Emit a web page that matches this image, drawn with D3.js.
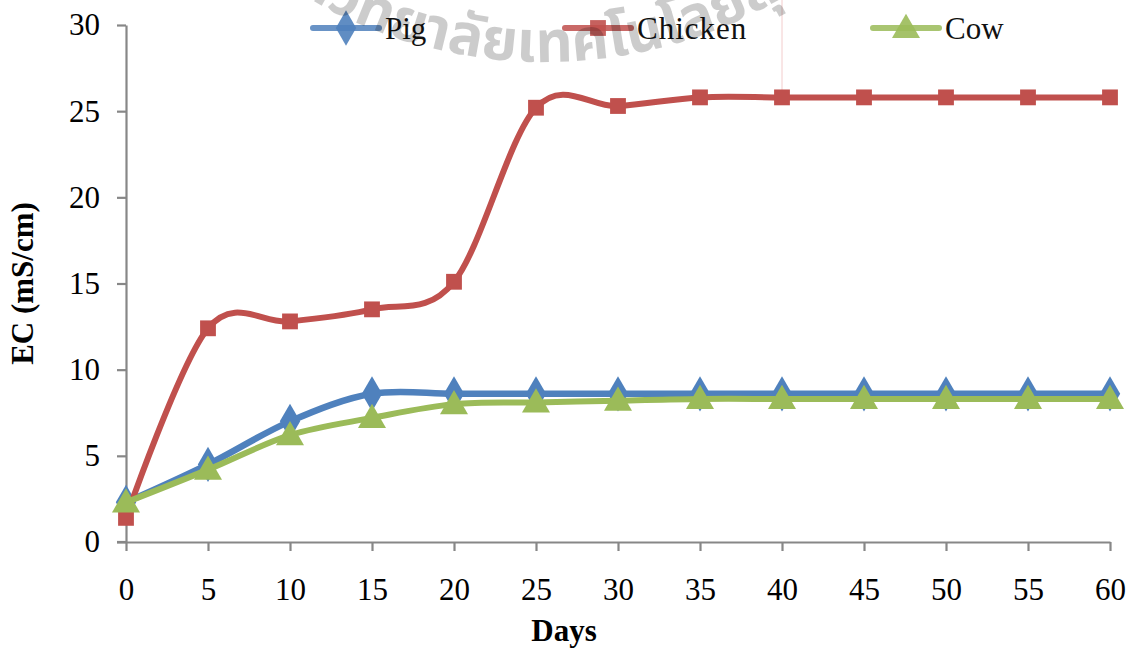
<!DOCTYPE html>
<html>
<head>
<meta charset="utf-8">
<script src="https://cdn.jsdelivr.net/npm/d3@7"></script>
<style>
  html, body { margin: 0; padding: 0; background: #fff; }
  svg { display: block; }
</style>
</head>
<body>
<svg id="chart" width="1137" height="650"></svg>
<script>
// Electrical conductivity of compost over time
const days = [0, 5, 10, 15, 20, 25, 30, 35, 40, 45, 50, 55, 60];
const pig = [2.3, 4.5, 7.0, 8.6, 8.6, 8.6, 8.6, 8.6, 8.6, 8.6, 8.6, 8.6, 8.6];
const chicken = [1.4, 12.4, 12.8, 13.5, 15.1, 25.2, 25.3, 25.8, 25.8, 25.8, 25.8, 25.8, 25.8];
const cow = [2.3, 4.2, 6.2, 7.2, 8.0, 8.1, 8.2, 8.3, 8.3, 8.3, 8.3, 8.3, 8.3];
const yTicks = [0, 5, 10, 15, 20, 25, 30];
const seriesNames = ["Pig", "Chicken", "Cow"];
const seriesColors = ["#4F81BD", "#C0504D", "#9BBB59"];
const seriesSymbols = [d3.symbolDiamond, d3.symbolSquare, d3.symbolTriangle];
const watermarkText = "มหาวิทยาลัยเทคโนโลยีสุรนารี";

const svg = d3.select("#chart");
const font = "'Liberation Serif', 'Times New Roman', serif";

const x = d3.scaleLinear().domain([0, 60]).range([126, 1110]);
const y = d3.scaleLinear().domain([0, 30]).range([542, 25]);

// faint vertical guide at day 40
svg.append("line")
  .attr("x1", x(40)).attr("x2", x(40))
  .attr("y1", 0).attr("y2", y(25.8))
  .attr("stroke", "#f3cccc").attr("stroke-width", 1);

// axes
const axisColor = "#878787";
const yAxis = svg.append("g")
  .attr("transform", `translate(${x(0)},0)`)
  .call(d3.axisLeft(y).tickValues(yTicks).tickSize(9).tickPadding(17).tickSizeOuter(0));
const xAxis = svg.append("g")
  .attr("transform", `translate(0,${y(0)})`)
  .call(d3.axisBottom(x).tickValues(days).tickSize(9).tickPadding(27).tickSizeOuter(0));
[xAxis, yAxis].forEach(g => {
  g.select(".domain").attr("stroke", axisColor).attr("stroke-width", 2.2);
  g.selectAll(".tick line").attr("stroke", axisColor).attr("stroke-width", 2.2);
  g.selectAll(".tick text").attr("fill", "#000").style("font-family", font).style("font-size", "31px");
});
svg.append("line").attr("x1", x(0) - 9).attr("x2", x(0)).attr("y1", y(0)).attr("y2", y(0))
  .attr("stroke", axisColor).attr("stroke-width", 2.2);

// axis titles
svg.append("text")
  .attr("x", 564).attr("y", 641)
  .attr("text-anchor", "middle")
  .style("font-family", font).style("font-size", "31px").style("font-weight", "bold")
  .text("Days");
svg.append("text")
  .attr("transform", `translate(33,${(y(0) + y(30)) / 2}) rotate(-90)`)
  .attr("text-anchor", "middle")
  .style("font-family", font).style("font-size", "31px").style("font-weight", "bold")
  .text("EC (mS/cm)");

// series
const allSeries = [pig, chicken, cow];
const line = d3.line()
  .x((d, i) => x(days[i]))
  .y(d => y(d))
  .curve(d3.curveCardinal.tension(0));
const symbolSizes = [360, 250, 340];
const lineWidths = [6.5, 6, 6];

allSeries.forEach((vals, si) => {
  const g = svg.append("g");
  g.append("path")
    .attr("d", line(vals))
    .attr("fill", "none")
    .attr("stroke", seriesColors[si])
    .attr("stroke-width", lineWidths[si])
    .attr("stroke-linejoin", "round")
    .attr("stroke-linecap", "round");
  g.selectAll("path.mk")
    .data(vals)
    .join("path")
    .attr("class", "mk")
    .attr("transform", (d, i) => `translate(${x(days[i])},${y(d) + (si === 2 ? 2 : 0)})`)
    .attr("d", d3.symbol().type(seriesSymbols[si]).size(symbolSizes[si]))
    .attr("fill", seriesColors[si]);
});

// legend
const legendX = [313, 565, 873];
const legendY = 28;
seriesNames.forEach((name, si) => {
  const g = svg.append("g").attr("transform", `translate(${legendX[si]},${legendY})`);
  g.append("line")
    .attr("x1", 0).attr("x2", 66).attr("y1", 0).attr("y2", 0)
    .attr("stroke", seriesColors[si]).attr("stroke-width", 6)
    .attr("stroke-linecap", "round").attr("opacity", 0.85);
  g.append("path")
    .attr("transform", `translate(33,${si === 2 ? 2 : 0})`)
    .attr("d", d3.symbol().type(seriesSymbols[si]).size(symbolSizes[si]))
    .attr("fill", seriesColors[si]).attr("opacity", 0.9);
  g.append("text")
    .attr("x", 72).attr("y", 11)
    .style("font-family", font).style("font-size", "31px")
    .style("letter-spacing", si === 1 ? "1px" : "0px")
    .attr("fill", "#111")
    .text(name);
});

// seal watermark text along an arc
const cx = 545, r = 470, cy = 62 - r;
const phi0 = 1.0;
const p0 = [cx - r * Math.sin(phi0), cy + r * Math.cos(phi0)];
const p1 = [cx + r * Math.sin(phi0), cy + r * Math.cos(phi0)];
svg.append("defs").append("path")
  .attr("id", "sealArc")
  .attr("d", `M${p0[0]},${p0[1]} A${r},${r} 0 0 0 ${p1[0]},${p1[1]}`);
svg.append("text")
  .style("font-family", "'Noto Sans Thai', 'Noto Sans', 'DejaVu Sans', sans-serif")
  .style("font-size", "58px").style("font-weight", "bold")
  .attr("fill", "#000").attr("fill-opacity", 0.2)
  .append("textPath")
  .attr("href", "#sealArc")
  .attr("startOffset", r * phi0 + 22)
  .attr("text-anchor", "middle")
  .text(watermarkText);
</script>
</body>
</html>
